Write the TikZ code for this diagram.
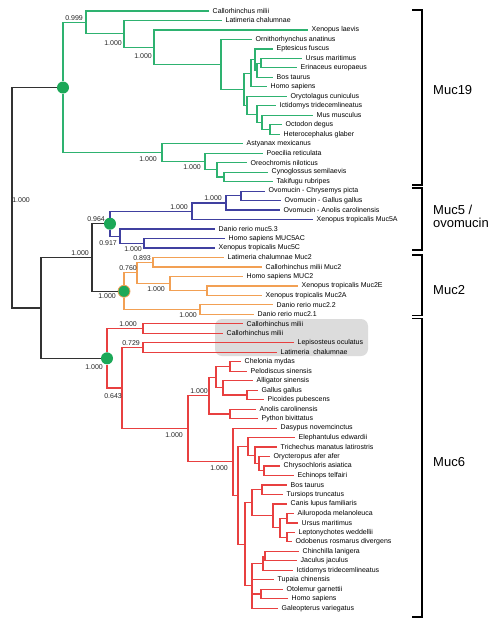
\documentclass[tikz,border=0pt]{standalone}
\usepackage{fontspec}
\setmainfont{Liberation Sans}
\newcommand\lf{\fontsize{7}{8}\selectfont}
\newcommand\bigf{\fontsize{13}{12.5}\selectfont}
\definecolor{cG}{RGB}{46,178,112}
\definecolor{cDot}{RGB}{28,168,88}
\definecolor{cB}{RGB}{64,64,160}
\definecolor{cO}{RGB}{242,160,84}
\definecolor{cR}{RGB}{232,64,64}
\definecolor{cK}{RGB}{50,50,50}
\definecolor{cBox}{RGB}{220,220,220}
\begin{document}
\begin{tikzpicture}[x=1pt,y=-1pt,
  leaf/.style={anchor=west,inner xsep=3.5pt,inner ysep=0.5pt,font=\lf,text=black},
  bs/.style={anchor=east,inner sep=0pt,font=\lf,text=black!85},
  br/.style={line width=1.2pt},
  dot/.style={circle,fill=cDot,inner sep=0pt,minimum size=12pt},
  grp/.style={anchor=west,inner sep=0pt,font=\bigf,align=left},
  brk/.style={line width=1.5pt,black}]
\useasboundingbox (0,0) rectangle (499,622);
\fill[white] (0,0) rectangle (499,622);
% grey box
\fill[cBox, rounded corners=7pt] (215,319) rectangle (368,356);

% ---------- root and backbone ----------
\coordinate (root) at (12,197.7);
\coordinate (n41) at (41,307.9);
\coordinate (n92) at (92,257.49);
\node[dot] (m19) at (63,87.51) {};
\node[dot] (m5) at (110,223.71) {};
\node[dot,draw=cO,line width=0.8pt] (m2) at (124,291.26) {};
\node[dot] (m6) at (107,358.34) {};

% ---------- Muc19 ----------
\coordinate (n86) at (86,22.41);
\coordinate (n124) at (124,33.81);
\coordinate (n154) at (154,47.14);
\coordinate (n221) at (221,64.33);
\coordinate (W) at (244,89.21);
\coordinate (Z) at (251,73.21);
\coordinate (Yn) at (255,59.59);
\coordinate (X) at (257,70.25);
\coordinate (UE) at (261,63.14);
\coordinate (OryN) at (247,105.21);
\coordinate (IctN) at (257,114.10);
\coordinate (MusN) at (262,122.39);
\coordinate (OH) at (270,129.50);
\coordinate (n162) at (162,152.61);
\coordinate (n205) at (205,161.50);
\coordinate (n217) at (217,169.79);
\coordinate (CT) at (224,176.90);

\node[leaf] (L0) at (209,11.00) {Callorhinchus milii};
\node[leaf] (L1) at (222,20.48) {Latimeria chalumnae};
\node[leaf] (L2) at (308,29.96) {Xenopus laevis};
\node[leaf] (L3) at (252,39.44) {Ornithorhynchus anatinus};
\node[leaf] (L4) at (273,48.92) {Eptesicus fuscus};
\node[leaf] (L5) at (302,58.40) {Ursus maritimus};
\node[leaf] (L6) at (297,67.88) {Erinaceus europaeus};
\node[leaf] (L7) at (273,77.36) {Bos taurus};
\node[leaf] (L8) at (267,86.84) {Homo sapiens};
\node[leaf] (L9) at (287,96.32) {Oryctolagus cuniculus};
\node[leaf] (L10) at (276,105.80) {Ictidomys tridecemlineatus};
\node[leaf] (L11) at (313,115.28) {Mus musculus};
\node[leaf] (L12) at (282,124.76) {Octodon degus};
\node[leaf] (L13) at (280,134.24) {Heterocephalus glaber};
\node[leaf] (L14) at (243,143.72) {Astyanax mexicanus};
\node[leaf] (L15) at (263,153.20) {Poecilia reticulata};
\node[leaf] (L16) at (247,162.68) {Oreochromis niloticus};
\node[leaf] (L17) at (268,172.16) {Cynoglossus semilaevis};
\node[leaf] (L18) at (273,181.64) {Takifugu rubripes};

\foreach \p/\c in {m19/n86,m19/n162,n86/L0,n86/n124,n124/L1,n124/n154,n154/L2,n154/n221,
  n221/L3,n221/W,W/Z,W/OryN,Z/Yn,Z/L8,Yn/L4,Yn/X,X/UE,X/L7,UE/L5,UE/L6,
  OryN/L9,OryN/IctN,IctN/L10,IctN/MusN,MusN/L11,MusN/OH,OH/L12,OH/L13,
  n162/L14,n162/n205,n205/L15,n205/n217,n217/L16,n217/CT,CT/L17,CT/L18}
  \draw[br,cG] (\p) |- (\c);

% ---------- Muc5 ----------
\coordinate (a5) at (192,211.27);
\coordinate (b5) at (226,202.97);
\coordinate (c5) at (241,195.86);
\coordinate (n120) at (120,236.15);
\coordinate (n144) at (144,243.26);
\node[leaf] (L19) at (265,191.12) {Ovomucin - Chrysemys picta};
\node[leaf] (L20) at (281,200.60) {Ovomucin - Gallus gallus};
\node[leaf] (L21) at (280,210.08) {Ovomucin - Anolis carolinensis};
\node[leaf] (L22) at (313,219.56) {Xenopus tropicalis Muc5A};
\node[leaf] (L23) at (215,229.04) {Danio rerio muc5.3};
\node[leaf] (L24) at (225,238.52) {Homo sapiens MUC5AC};
\node[leaf] (L25) at (215,248.00) {Xenopus tropicalis Muc5C};
\foreach \p/\c in {m5/a5,m5/n120,a5/b5,a5/L22,b5/c5,b5/L21,c5/L19,c5/L20,
  n120/L23,n120/n144,n144/L24,n144/L25}
  \draw[br,cB] (\p) |- (\c);

% ---------- Muc2 ----------
\coordinate (d2) at (137,272.89);
\coordinate (e2) at (153,262.22);
\coordinate (f2) at (170,283.55);
\coordinate (g2) at (207,290.66);
\coordinate (dn2) at (200,309.62);
\node[leaf] (L26) at (224,257.48) {Latimeria chalumnae Muc2};
\node[leaf] (L27) at (262,266.96) {Callorhinchus milii Muc2};
\node[leaf] (L28) at (243,276.44) {Homo sapiens MUC2};
\node[leaf] (L29) at (298,285.92) {Xenopus tropicalis Muc2E};
\node[leaf] (L30) at (262,295.40) {Xenopus tropicalis Muc2A};
\node[leaf] (L31) at (273,304.88) {Danio rerio muc2.2};
\node[leaf] (L32) at (254,314.36) {Danio rerio muc2.1};
\foreach \p/\c in {m2/d2,m2/dn2,d2/e2,d2/f2,e2/L26,e2/L27,f2/L28,f2/g2,g2/L29,g2/L30,
  dn2/L31,dn2/L32}
  \draw[br,cO] (\p) |- (\c);

% ---------- Muc6 ----------
\coordinate (H6) at (143,328.58);
\coordinate (J6) at (143,347.54);
\coordinate (n122) at (122,388.09);
\coordinate (Amn) at (188,428.64);
\coordinate (Rep) at (209,395.54);
\coordinate (Arc) at (216,377.17);
\coordinate (Tur) at (230,366.50);
\coordinate (Arch) at (223,387.83);
\coordinate (Bird) at (247,394.94);
\coordinate (Sq) at (230,413.90);
\coordinate (Mam) at (233,461.74);
\coordinate (Mm) at (238,495.36);
\coordinate (Af1) at (248,446.49);
\coordinate (Af2) at (255,455.38);
\coordinate (Af3) at (259,463.67);
\coordinate (Af4) at (264,470.78);
\coordinate (Bor) at (245,544.20);
\coordinate (Lau) at (252,502.78);
\coordinate (Cet) at (262,489.74);
\coordinate (Car1) at (273,515.81);
\coordinate (Car2) at (280,527.66);
\coordinate (Car3) at (287,518.18);
\coordinate (Car4) at (287,537.14);
\coordinate (Eu) at (252,585.70);
\coordinate (Rod1) at (263,563.21);
\coordinate (Rod2) at (265,556.10);
\coordinate (Pri) at (261,594.02);

\node[leaf] (L33) at (243,323.84) {Callorhinchus milii};
\node[leaf] (L34) at (223,333.32) {Callorhinchus milii};
\node[leaf] (L35) at (294,342.80) {Lepisosteus oculatus};
\node[leaf] (L36) at (277,352.28) {Latimeria\ \ chalumnae};
\node[leaf] (L37) at (241,361.76) {Chelonia mydas};
\node[leaf] (L38) at (247,371.24) {Pelodiscus sinensis};
\node[leaf] (L39) at (253,380.72) {Alligator sinensis};
\node[leaf] (L40) at (258,390.20) {Gallus gallus};
\node[leaf] (L41) at (264,399.68) {Picoides pubescens};
\node[leaf] (L42) at (256,409.16) {Anolis carolinensis};
\node[leaf] (L43) at (258,418.64) {Python bivittatus};
\node[leaf] (L44) at (277,428.12) {Dasypus novemcinctus};
\node[leaf] (L45) at (295,437.60) {Elephantulus edwardii};
\node[leaf] (L46) at (277,447.08) {Trichechus manatus latirostris};
\node[leaf] (L47) at (270,456.56) {Orycteropus afer afer};
\node[leaf] (L48) at (280,466.04) {Chrysochloris asiatica};
\node[leaf] (L49) at (294,475.52) {Echinops telfairi};
\node[leaf] (L50) at (287,485.00) {Bos taurus};
\node[leaf] (L51) at (283,494.48) {Tursiops truncatus};
\node[leaf] (L52) at (287,503.96) {Canis lupus familiaris};
\node[leaf] (L53) at (294,513.44) {Ailuropoda melanoleuca};
\node[leaf] (L54) at (298,522.92) {Ursus maritimus};
\node[leaf] (L55) at (295,532.40) {Leptonychotes weddellii};
\node[leaf] (L56) at (292,541.88) {Odobenus rosmarus divergens};
\node[leaf] (L57) at (299,551.36) {Chinchilla lanigera};
\node[leaf] (L58) at (297,560.84) {Jaculus jaculus};
\node[leaf] (L59) at (293,570.32) {Ictidomys tridecemlineatus};
\node[leaf] (L60) at (274,579.80) {Tupaia chinensis};
\node[leaf] (L61) at (283,589.28) {Otolemur garnettii};
\node[leaf] (L62) at (288,598.76) {Homo sapiens};
\node[leaf] (L63) at (278,608.24) {Galeopterus variegatus};

\foreach \p/\c in {m6/H6,m6/n122,H6/L33,H6/L34,n122/J6,n122/Amn,J6/L35,J6/L36,
  Amn/Rep,Amn/Mam,Rep/Arc,Rep/Sq,Arc/Tur,Arc/Arch,Tur/L37,Tur/L38,Arch/L39,Arch/Bird,
  Bird/L40,Bird/L41,Sq/L42,Sq/L43,Mam/L44,Mam/Mm,Mm/Af1,Mm/Bor,Af1/L45,Af1/Af2,
  Af2/L46,Af2/Af3,Af3/L47,Af3/Af4,Af4/L48,Af4/L49,Bor/Lau,Bor/Eu,Lau/Cet,Lau/Car1,
  Cet/L50,Cet/L51,Car1/L52,Car1/Car2,Car2/Car3,Car2/Car4,Car3/L53,Car3/L54,
  Car4/L55,Car4/L56,Eu/Rod1,Eu/L60,Eu/Pri,Eu/L63,Rod1/Rod2,Rod1/L59,Rod2/L57,Rod2/L58,
  Pri/L61,Pri/L62}
  \draw[br,cR] (\p) |- (\c);

% backbone edges
\foreach \p/\c in {root/m19,root/n41,n41/n92,n41/m6,n92/m5,n92/m2}
  \draw[br,cK] (\p) |- (\c);

% ---------- support values ----------
\node[bs] (s1) at (83,18) {0.999};
\node[bs] (s2) at (122,43) {1.000};
\node[bs] (s3) at (152,56) {1.000};
\node[bs] (s4) at (157,159) {1.000};
\node[bs] (s5) at (201,167) {1.000};
\node[bs] (s6) at (30,200) {1.000};
\node[bs] (s7) at (89,253) {1.000};
\node[bs] (s8) at (105,219) {0.964};
\node[bs] (s9) at (116,296) {1.000};
\node[bs] (s10) at (117,243) {0.917};
\node[bs] (s11) at (142,249) {1.000};
\node[bs] (s12) at (188,207) {1.000};
\node[bs] (s13) at (222,198) {1.000};
\node[bs] (s14) at (151,258) {0.893};
\node[bs] (s15) at (137,268) {0.760};
\node[bs] (s16) at (165,289) {1.000};
\node[bs] (s17) at (197,315) {1.000};
\node[bs] (s18) at (137,324) {1.000};
\node[bs] (s19) at (140,343) {0.729};
\node[bs] (s20) at (103,367) {1.000};
\node[bs] (s21) at (122,396) {0.643};
\node[bs] (s22) at (208,391) {1.000};
\node[bs] (s23) at (183,435) {1.000};
\node[bs] (s24) at (228,468) {1.000};

% ---------- brackets ----------
\draw[brk] (412,10) -- (422,10) -- (422,185) -- (412,185);
\draw[brk] (412,188) -- (422,188) -- (422,250) -- (412,250);
\draw[brk] (412,255) -- (422,255) -- (422,315.5) -- (412,315.5);
\draw[brk] (412,318.5) -- (422,318.5) -- (422,617) -- (412,617);
\node[grp] (g19) at (433,90) {Muc19};
\node[grp] (g5) at (433,216.5) {Muc5 /\\ovomucin};
\node[grp] (g2) at (433,290) {Muc2};
\node[grp] (g6) at (433,462) {Muc6};
\end{tikzpicture}
\end{document}
